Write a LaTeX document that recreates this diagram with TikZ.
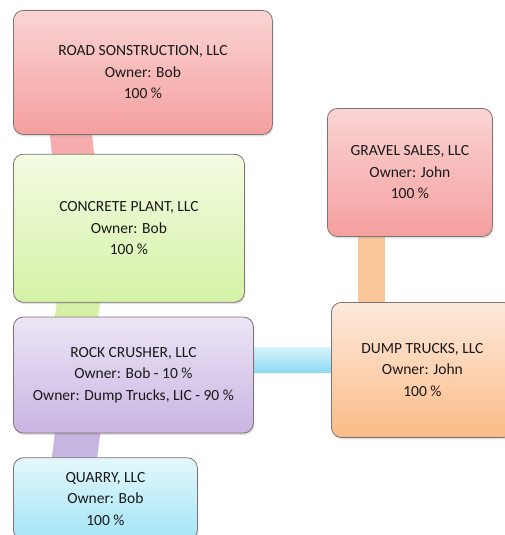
\documentclass[tikz,border=0pt]{standalone}
\usepackage{fontspec}
\setmainfont{Carlito}
\usepackage{tikz}
\usetikzlibrary{positioning, shadows, backgrounds}

\definecolor{roadtop}{HTML}{FAD4D4}
\definecolor{roadbot}{HTML}{F59F9F}
\definecolor{conctop}{HTML}{F3FBE2}
\definecolor{concbot}{HTML}{D5F2A6}
\definecolor{rocktop}{HTML}{ECE5F6}
\definecolor{rockbot}{HTML}{C8B5E2}
\definecolor{quartop}{HTML}{E3F7FB}
\definecolor{quarbot}{HTML}{A4E4F6}
\definecolor{dumptop}{HTML}{FDE9DC}
\definecolor{dumpbot}{HTML}{FBBC87}
\definecolor{edgegray}{HTML}{7F7373}
\definecolor{pinkband}{HTML}{F6ACAC}
\definecolor{greenband}{HTML}{D6F1A6}
\definecolor{purpleband}{HTML}{C7B5E1}
\definecolor{cyantop}{HTML}{D6F4FC}
\definecolor{cyanbot}{HTML}{8EDBF0}
\definecolor{peachband}{HTML}{FBC698}

\begin{document}
\begin{tikzpicture}[
    x=1pt, y=-1pt,
    firm/.style={rectangle, rounded corners=10pt, draw=edgegray, line width=0.8pt,
      inner sep=0pt, align=center, text=black!90,
      font=\fontsize{15.5}{21.5}\selectfont,
      drop shadow={opacity=0.25, shadow xshift=1pt, shadow yshift=-2pt}},
    band/.style={line width=#1, line cap=butt, shorten <=-12pt, shorten >=-12pt}
  ]
    \useasboundingbox (0,0) rectangle (505,535);

    \node[firm, top color=roadtop, bottom color=roadbot,
      minimum width=259pt, minimum height=124pt, anchor=north west] (road) at (13,10)
      {ROAD SONSTRUCTION, LLC\\Owner: Bob\\100 \%};
    \node[firm, top color=conctop, bottom color=concbot,
      minimum width=231pt, minimum height=148pt,
      below=19pt of road.south west, anchor=north west] (concrete)
      {CONCRETE PLANT, LLC\\Owner: Bob\\100 \%};
    \node[firm, top color=rocktop, bottom color=rockbot,
      minimum width=240pt, minimum height=116pt,
      below=14pt of concrete.south west, anchor=north west] (rock)
      {ROCK CRUSHER, LLC\\Owner: Bob - 10 \%\\Owner: Dump Trucks, LIC - 90 \%};
    \node[firm, top color=quartop, bottom color=quarbot,
      minimum width=184pt, minimum height=82pt,
      below=24pt of rock.south west, anchor=north west] (quarry)
      {QUARRY, LLC\\Owner: Bob\\100 \%};
    \node[firm, top color=dumptop, bottom color=dumpbot,
      minimum width=182pt, minimum height=135pt, anchor=north west] (dump) at (331,302)
      {DUMP TRUCKS, LLC\\Owner: John\\100 \%};
    \node[firm, top color=roadtop, bottom color=roadbot,
      minimum width=165pt, minimum height=128pt, anchor=north west] (gravel) at (327,108)
      {GRAVEL SALES, LLC\\Owner: John\\100 \%};

    % ownership bands
    \begin{scope}[on background layer]
      \draw[band=42pt, draw=pinkband] ([xshift=58pt]road.south west) -- ([xshift=60pt]concrete.north west);
      \draw[band=43pt, draw=greenband] ([xshift=65.5pt]concrete.south west) -- ([xshift=63.5pt]rock.north west);
      \draw[band=45pt, draw=purpleband] ([xshift=64.5pt]rock.south west) -- ([xshift=61.5pt]quarry.north west);
      \draw[band=27pt, draw=peachband] ([xshift=44.5pt]gravel.south west) -- ([xshift=40.5pt]dump.north west);
      \shade[top color=cyantop, bottom color=cyanbot] ([yshift=28pt,xshift=-10pt]rock.east) rectangle ([yshift=-2.5pt,xshift=10pt]dump.west);
    \end{scope}
  \end{tikzpicture}
\end{document}
